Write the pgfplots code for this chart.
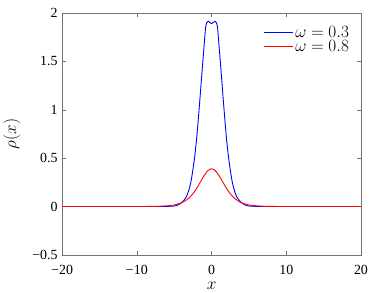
\documentclass[border=0pt]{standalone}
\usepackage{fontspec}
\setmainfont{Liberation Serif}
\usepackage{pgfplots}
\pgfplotsset{compat=1.18}
\begin{document}
\begin{tikzpicture}
\begin{axis}[
  at={(0,0)}, anchor=south west,
  scale only axis, width=299bp, height=242bp,
  xmin=-20, xmax=20, ymin=-0.5, ymax=2,
  xtick={-20,-10,0,10,20},
  xticklabels={−20,−10,0,10,20},
  ytick={-0.5,0,0.5,1,1.5,2},
  yticklabels={−0.5,0,0.5,1,1.5,2},
  tick align=inside, tick pos=both,
  major tick length=4bp,
  axis line style={black!55},
  tick style={black!55},
  tick label style={font=\fontsize{14}{14}\selectfont},
  yticklabel style={xshift=-1bp},
  xticklabel style={yshift=-7bp},
  xlabel={$x$}, ylabel={$\rho(x)$},
  label style={font=\fontsize{19}{19}\selectfont},
  xlabel style={yshift=0bp},
  ylabel style={yshift=5bp},
  legend style={fill=none, draw=white, at={(0.967,0.955)}, anchor=north east,
    font=\fontsize{17}{17}\selectfont, row sep=-2.5bp, inner sep=0bp},
  legend cell align=left,
  legend image code/.code={\draw[#1] (0bp,0bp) -- (29bp,0bp);},
]
\addplot[draw=blue, line width=0.9bp, smooth, tension=0.3, forget plot] coordinates {
(-20,0) (-8,0) (-7,0.0003) (-6,0.001) (-5,0.005) (-4.5,0.015) (-4,0.04) (-3.75,0.06)
(-3.5,0.085) (-3.25,0.12) (-3,0.18) (-2.75,0.26) (-2.5,0.38) (-2.25,0.52) (-2,0.70)
(-1.8,0.88) (-1.6,1.07) (-1.4,1.27) (-1.2,1.47) (-1,1.66) (-0.8,1.85) (-0.65,1.90)
(-0.45,1.915) (-0.2,1.90) (0,1.89) (0.2,1.90) (0.45,1.915) (0.65,1.90) (0.8,1.85)
(1,1.66) (1.2,1.47) (1.4,1.27) (1.6,1.07) (1.8,0.88) (2,0.70) (2.25,0.52) (2.5,0.38)
(2.75,0.26) (3,0.18) (3.25,0.12) (3.5,0.085) (3.75,0.06) (4,0.04) (4.5,0.015)
(5,0.005) (6,0.001) (7,0.0003) (8,0) (20,0)
};
\addplot[draw=red, line width=0.9bp, smooth, tension=0.4, forget plot] coordinates {
(-20,0) (-10,0.0002) (-8,0.0011) (-7,0.0027) (-6,0.0066) (-5,0.016) (-4,0.039)
(-3.5,0.060) (-3,0.090) (-2.5,0.132) (-2,0.187) (-1.5,0.253) (-1,0.319) (-0.5,0.371)
(0,0.39) (0.5,0.371) (1,0.319) (1.5,0.253) (2,0.187) (2.5,0.132) (3,0.090) (3.5,0.060)
(4,0.039) (5,0.016) (6,0.0066) (7,0.0027) (8,0.0011) (10,0.0002) (20,0)
};
\addlegendimage{draw=blue, line width=1.1bp}
\addlegendentry{$\omega=0.3$}
\addlegendimage{draw=red, line width=1.1bp}
\addlegendentry{$\omega=0.8$}
\end{axis}
\path[use as bounding box] (-62bp,-35bp) rectangle (312bp,255bp);
\end{tikzpicture}
\end{document}
